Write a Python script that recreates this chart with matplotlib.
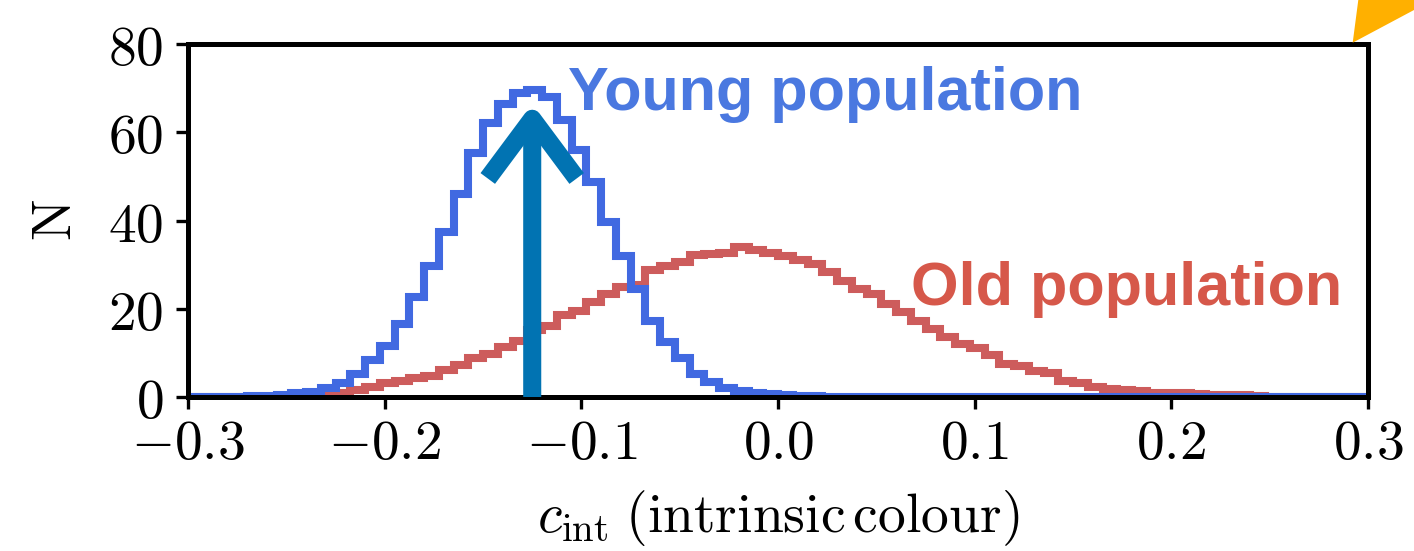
import numpy as np
import matplotlib
matplotlib.use("Agg")
import matplotlib.pyplot as plt
from matplotlib.ticker import FuncFormatter, FixedLocator
from matplotlib.patches import Polygon

plt.rcParams['mathtext.fontset'] = 'cm'

# ---- data ----
bin_lo, bin_hi, n_bins = -0.3, 0.3, 80
young_counts = [0.02, 0.03, 0.05, 0.08, 0.15, 0.3, 0.5, 0.8, 1.1, 2.0,
                3.1, 5.1, 8.3, 11.6, 16.6, 22.6, 29.8, 37.4, 46.1, 55.2,
                62.2, 66.4, 69.0, 69.5, 68.0, 62.8, 56.1, 48.8, 39.7, 31.9,
                24.5, 17.2, 12.4, 8.8, 5.2, 3.3, 2.0, 1.3, 0.9, 0.6,
                0.4, 0.25, 0.15, 0.1, 0.06, 0.04, 0.03, 0.02, 0.01, 0.01,
                0, 0, 0, 0, 0, 0, 0, 0, 0, 0,
                0, 0, 0, 0, 0, 0, 0, 0, 0, 0,
                0, 0, 0, 0, 0, 0, 0, 0, 0, 0]
old_counts = [0.0, 0.01, 0.02, 0.04, 0.06, 0.08, 0.12, 0.18, 0.25, 0.35,
              0.8, 1.5, 2.3, 3.1, 3.7, 4.3, 4.8, 6.2, 7.3, 8.9,
              9.8, 11.3, 12.8, 15.3, 16.0, 18.5, 19.6, 21.5, 23.3, 25.0,
              25.3, 28.7, 29.6, 30.6, 32.2, 32.4, 32.6, 33.9, 33.4, 32.7,
              32.0, 31.0, 30.1, 28.4, 26.3, 24.4, 23.4, 21.0, 19.3, 17.3,
              15.4, 13.7, 12.0, 11.1, 9.6, 7.5, 7.0, 5.8, 5.4, 3.7,
              3.1, 2.2, 1.9, 1.6, 1.3, 1.0, 0.95, 0.85, 0.7, 0.45,
              0.4, 0.4, 0.15, 0.1, 0.08, 0.06, 0.04, 0.03, 0.02, 0.01]
x_ticks = [-0.3, -0.2, -0.1, 0.0, 0.1, 0.2, 0.3]
y_ticks = [0, 20, 40, 60, 80]
young_label = "Young population"
old_label = "Old population"
arrow_x = -0.125
arrow_top = 66.5

edges = np.linspace(bin_lo, bin_hi, n_bins + 1)

fig = plt.figure(figsize=(14.14, 5.51), dpi=100)
ax = fig.add_axes([0.133, 0.2795, 0.8345, 0.6405])

ax.stairs(old_counts, edges, color='#cd5c5c', lw=5.8, baseline=0)
ax.stairs(young_counts, edges, color='#4169e1', lw=5.8, baseline=0)

ax.annotate('', xy=(arrow_x, arrow_top), xytext=(arrow_x, 0),
            arrowprops=dict(arrowstyle='->,head_length=4.3,head_width=3.2',
                            lw=13, color='#0173b2', shrinkA=0, shrinkB=0,
                            mutation_scale=10, capstyle='butt'),
            annotation_clip=False)

ax.text(-0.107, 65.0, young_label, color='#4a78e0', fontsize=44,
        fontweight='bold', family='Liberation Sans', va='baseline', ha='left')
ax.text(0.0674, 20.8, old_label, color='#d6584a', fontsize=44,
        fontweight='bold', family='Liberation Sans', va='baseline', ha='left')

ax.set_xlim(bin_lo, bin_hi)
ax.set_ylim(0, 80)
ax.xaxis.set_major_locator(FixedLocator(x_ticks))
ax.yaxis.set_major_locator(FixedLocator(y_ticks))
ax.xaxis.set_major_formatter(FuncFormatter(lambda v, p: r'$%.1f$' % v))
ax.yaxis.set_major_formatter(FuncFormatter(lambda v, p: r'$%d$' % v))
ax.tick_params(axis='both', direction='out', length=8.6, width=2.4,
               labelsize=40)
ax.tick_params(axis='x', pad=6)
ax.tick_params(axis='y', pad=9)
for s in ax.spines.values():
    s.set_linewidth(3.6)

ax.set_xlabel(r'$c_{\rm int}\;(\mathrm{intrinsic\,colour})$', fontsize=40, labelpad=12)
ax.set_ylabel(r'$\mathrm{N}$', fontsize=40, labelpad=18)

# decorative orange wedge from the original figure (top right corner)
W, H = 1414.0, 551.0
wedge = Polygon([(1352.7 / W, 1 - 42.7 / H), (1358.3 / W, 1.0), (1.0, 1.0),
                 (1.0, 1 - 10.0 / H)], closed=True, transform=fig.transFigure,
                facecolor='#ffb000', edgecolor='none')
fig.patches.append(wedge)

fig.savefig('out.png', dpi=100)
